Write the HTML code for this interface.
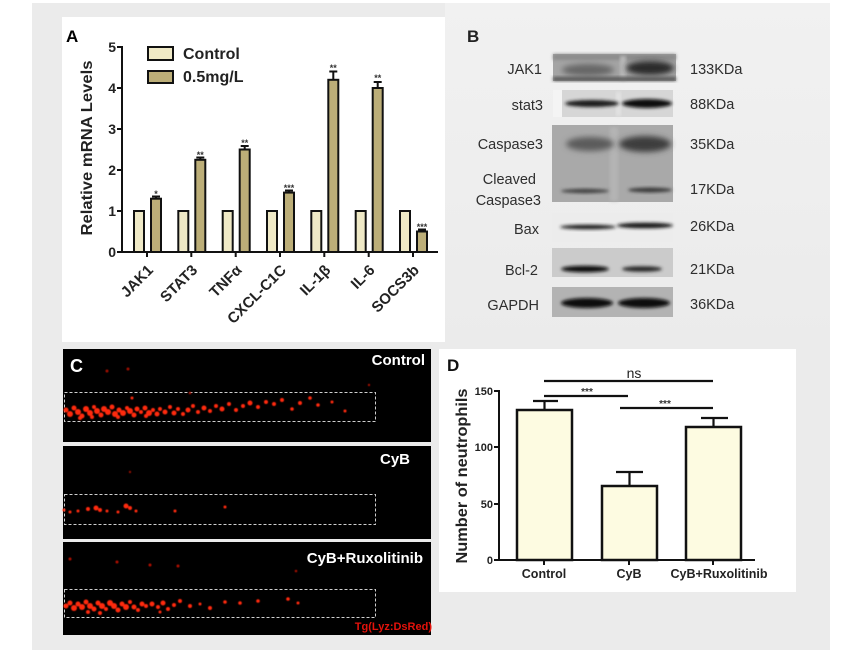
<!DOCTYPE html>
<html><head><meta charset="utf-8"><style>
html,body{margin:0;padding:0;background:#fff;}
svg{display:block;}
text{font-family:"Liberation Sans",Arial,sans-serif;}
</style></head><body>
<svg width="842" height="665" viewBox="0 0 842 665" xmlns="http://www.w3.org/2000/svg">
<defs>
<filter id="bl" x="-20%" y="-50%" width="140%" height="200%"><feGaussianBlur stdDeviation="1.6"/></filter>
<filter id="bl2" x="-20%" y="-50%" width="140%" height="200%"><feGaussianBlur stdDeviation="3"/></filter>
<filter id="rd" x="-10%" y="-10%" width="120%" height="120%"><feGaussianBlur stdDeviation="0.6"/></filter>
<linearGradient id="bgB" x1="0" y1="0" x2="0" y2="1"><stop offset="0" stop-color="#f1f1f1"/><stop offset="1" stop-color="#ebebeb"/></linearGradient>
</defs>
<!-- backgrounds -->
<rect x="32" y="3" width="798" height="647" fill="#ebebeb"/>
<rect x="445" y="3" width="385" height="340" fill="url(#bgB)"/>
<rect x="62" y="17" width="383" height="325" fill="#ffffff"/>
<rect x="439" y="349" width="357" height="243" fill="#ffffff"/>

<!-- ===== Panel A ===== -->
<text x="66" y="42" font-size="17" font-weight="bold">A</text>
<text transform="translate(92,148) rotate(-90)" text-anchor="middle" font-size="16" font-weight="bold" fill="#222" textLength="175" lengthAdjust="spacingAndGlyphs">Relative mRNA Levels</text>
<g font-size="14" font-weight="bold" text-anchor="end" fill="#222">
<text x="116" y="257">0</text><text x="116" y="216">1</text><text x="116" y="175">2</text>
<text x="116" y="134">3</text><text x="116" y="93">4</text><text x="116" y="52">5</text>
</g>
<g stroke="#111" stroke-width="2">
<line x1="122" y1="46" x2="122" y2="253"/>
<line x1="121" y1="252" x2="438" y2="252"/>
<line x1="117" y1="47" x2="122" y2="47"/><line x1="117" y1="88" x2="122" y2="88"/>
<line x1="117" y1="129" x2="122" y2="129"/><line x1="117" y1="170" x2="122" y2="170"/>
<line x1="117" y1="211" x2="122" y2="211"/><line x1="117" y1="252" x2="122" y2="252"/>
<line x1="147" y1="252" x2="147" y2="257"/><line x1="191.3" y1="252" x2="191.3" y2="257"/>
<line x1="235.7" y1="252" x2="235.7" y2="257"/><line x1="280" y1="252" x2="280" y2="257"/>
<line x1="324.3" y1="252" x2="324.3" y2="257"/><line x1="368.7" y1="252" x2="368.7" y2="257"/>
<line x1="413" y1="252" x2="413" y2="257"/>
</g>
<!-- legend -->
<rect x="148" y="47" width="25" height="13" fill="#efe9c6" stroke="#111" stroke-width="2"/>
<rect x="148" y="71" width="25" height="12" fill="#bcae78" stroke="#111" stroke-width="2"/>
<text x="183" y="59" font-size="16" font-weight="bold" fill="#222">Control</text>
<text x="183" y="82" font-size="16" font-weight="bold" fill="#222">0.5mg/L</text>
<!-- bars: control -->
<g fill="#efe9c6" stroke="#111" stroke-width="2">
<rect x="134" y="211" width="10" height="41"/>
<rect x="178.3" y="211" width="10" height="41"/>
<rect x="222.7" y="211" width="10" height="41"/>
<rect x="267" y="211" width="10" height="41"/>
<rect x="311.3" y="211" width="10" height="41"/>
<rect x="355.7" y="211" width="10" height="41"/>
<rect x="400" y="211" width="10" height="41"/>
</g>
<!-- bars: treatment -->
<g fill="#bcae78" stroke="#111" stroke-width="2">
<rect x="151" y="198.7" width="10" height="53.3"/>
<rect x="195.3" y="159.8" width="10" height="92.2"/>
<rect x="239.7" y="149.5" width="10" height="102.5"/>
<rect x="284" y="192.6" width="10" height="59.4"/>
<rect x="328.3" y="79.8" width="10" height="172.2"/>
<rect x="372.7" y="88" width="10" height="164"/>
<rect x="417" y="231.5" width="10" height="20.5"/>
</g>
<!-- error bars -->
<g stroke="#111" stroke-width="2">
<line x1="156" y1="198.7" x2="156" y2="196.5"/><line x1="152" y1="196.5" x2="160" y2="196.5"/>
<line x1="200.3" y1="159.8" x2="200.3" y2="157.5"/><line x1="196.3" y1="157.5" x2="204.3" y2="157.5"/>
<line x1="244.7" y1="149.5" x2="244.7" y2="146"/><line x1="240.7" y1="146" x2="248.7" y2="146"/>
<line x1="289" y1="192.6" x2="289" y2="190.5"/><line x1="285" y1="190.5" x2="293" y2="190.5"/>
<line x1="333.3" y1="79.8" x2="333.3" y2="71.5"/><line x1="329.3" y1="71.5" x2="337.3" y2="71.5"/>
<line x1="377.7" y1="88" x2="377.7" y2="82"/><line x1="373.7" y1="82" x2="381.7" y2="82"/>
<line x1="422" y1="231.5" x2="422" y2="229.5"/><line x1="418" y1="229.5" x2="426" y2="229.5"/>
</g>
<g font-size="9" font-weight="bold" fill="#333" text-anchor="middle">
<text x="156" y="197">*</text>
<text x="200.3" y="158">**</text>
<text x="244.7" y="146">**</text>
<text x="289" y="191">***</text>
<text x="333.3" y="71">**</text>
<text x="377.7" y="81">**</text>
<text x="422" y="230">***</text>
</g>
<!-- x labels rotated -->
<g font-size="15" font-weight="bold" fill="#222" text-anchor="end">
<text transform="translate(154,271) rotate(-45)">JAK1</text>
<text transform="translate(198.3,271) rotate(-45)">STAT3</text>
<text transform="translate(242.7,271) rotate(-45)">TNFα</text>
<text transform="translate(287,271) rotate(-45)">CXCL-C1C</text>
<text transform="translate(331.3,271) rotate(-45)">IL-1β</text>
<text transform="translate(375.7,271) rotate(-45)">IL-6</text>
<text transform="translate(420,271) rotate(-45)">SOCS3b</text>
</g>

<!-- ===== Panel B ===== -->
<text x="467" y="42" font-size="17" font-weight="bold" fill="#222">B</text>
<!-- JAK1 strip -->
<rect x="553" y="54" width="123" height="27" fill="#a4a4a4"/>
<rect x="553" y="54" width="123" height="6" fill="#8c8c8c" filter="url(#bl)"/>
<rect x="620" y="56" width="6" height="24" fill="#b8b8b8" filter="url(#bl)"/>
<ellipse cx="588" cy="70" rx="26" ry="6" fill="#666" filter="url(#bl2)"/>
<ellipse cx="650" cy="68" rx="24" ry="7" fill="#2a2a2a" filter="url(#bl2)"/>
<rect x="553" y="77" width="123" height="4" fill="#555" filter="url(#bl)"/>
<!-- stat3 -->
<rect x="553" y="90" width="120" height="27" fill="#d6d6d6"/>
<rect x="553" y="90" width="9" height="27" fill="#f4f4f4"/>
<rect x="616" y="92" width="5" height="24" fill="#e2e2e2" filter="url(#bl)"/>
<ellipse cx="592" cy="103.5" rx="27" ry="3.5" fill="#1a1a1a" filter="url(#bl)"/>
<ellipse cx="647" cy="103.5" rx="25" ry="4.5" fill="#0e0e0e" filter="url(#bl)"/>
<!-- Caspase3 block -->
<rect x="552" y="125" width="121" height="77" fill="#a9a9a9"/>
<rect x="610" y="127" width="8" height="74" fill="#b4b4b4" filter="url(#bl)"/>
<ellipse cx="590" cy="144" rx="24" ry="7" fill="#5c5c5c" filter="url(#bl2)"/>
<ellipse cx="645" cy="144" rx="26" ry="8" fill="#3e3e3e" filter="url(#bl2)"/>
<ellipse cx="585" cy="191" rx="24" ry="2.2" fill="#404040" filter="url(#bl)"/>
<ellipse cx="650" cy="190" rx="22" ry="2.5" fill="#3a3a3a" filter="url(#bl)"/>
<!-- Bax -->
<rect x="552" y="213" width="121" height="29" fill="#ececec"/>
<ellipse cx="588" cy="227" rx="28" ry="2.3" fill="#1a1a1a" filter="url(#bl)"/>
<ellipse cx="645" cy="225.5" rx="28" ry="2.8" fill="#121212" filter="url(#bl)"/>
<!-- Bcl-2 -->
<rect x="552" y="248" width="121" height="29" fill="#cbcbcb"/>
<ellipse cx="585" cy="269" rx="24" ry="3.3" fill="#111" filter="url(#bl)"/>
<ellipse cx="642" cy="269" rx="20" ry="2.8" fill="#2a2a2a" filter="url(#bl)"/>
<!-- GAPDH -->
<rect x="552" y="287" width="121" height="30" fill="#b3b3b3"/>
<ellipse cx="587" cy="303" rx="26" ry="5" fill="#080808" filter="url(#bl)"/>
<ellipse cx="644" cy="303" rx="26" ry="5" fill="#080808" filter="url(#bl)"/>
<g font-size="14.5" fill="#2e2e2e" text-anchor="end">
<text x="542" y="74">JAK1</text>
<text x="543" y="110">stat3</text>
<text x="543" y="149">Caspase3</text>
<text x="536" y="184">Cleaved</text>
<text x="541" y="205">Caspase3</text>
<text x="539" y="234">Bax</text>
<text x="538" y="275">Bcl-2</text>
<text x="539" y="310">GAPDH</text>
</g>
<g font-size="14.5" fill="#2e2e2e">
<text x="690" y="74">133KDa</text>
<text x="690" y="109">88KDa</text>
<text x="690" y="149">35KDa</text>
<text x="690" y="194">17KDa</text>
<text x="690" y="231">26KDa</text>
<text x="690" y="274">21KDa</text>
<text x="690" y="309">36KDa</text>
</g>

<!-- ===== Panel C ===== -->
<rect x="63" y="349" width="368" height="93" fill="#000"/>
<rect x="63" y="446" width="368" height="93" fill="#000"/>
<rect x="63" y="542" width="368" height="93" fill="#000"/>
<g fill="none" stroke="#cfcfcf" stroke-width="1" stroke-dasharray="3,2">
<rect x="64.5" y="392.5" width="311" height="29"/>
<rect x="64.5" y="494.5" width="311" height="30"/>
<rect x="64.5" y="589.5" width="311" height="28"/>
</g>
<g fill="#ff2a10" filter="url(#rd)">
<circle cx="66" cy="410" r="2.5"/><circle cx="70" cy="414" r="3"/><circle cx="74" cy="408" r="2.5"/><circle cx="78" cy="412" r="3"/>
<circle cx="82" cy="416" r="2.5"/><circle cx="86" cy="409" r="3"/><circle cx="90" cy="413" r="3"/><circle cx="94" cy="407" r="2"/>
<circle cx="97" cy="411" r="3"/><circle cx="101" cy="415" r="2.5"/><circle cx="104" cy="409" r="3"/><circle cx="108" cy="412" r="3"/>
<circle cx="112" cy="407" r="2.5"/><circle cx="115" cy="414" r="3"/><circle cx="119" cy="410" r="2.5"/><circle cx="123" cy="413" r="3"/>
<circle cx="127" cy="408" r="2"/><circle cx="130" cy="411" r="3"/><circle cx="134" cy="415" r="2.5"/><circle cx="137" cy="409" r="2.5"/>
<circle cx="141" cy="412" r="2"/><circle cx="145" cy="408" r="2.5"/><circle cx="149" cy="413" r="3"/><circle cx="153" cy="410" r="2"/>
<circle cx="157" cy="414" r="2.5"/><circle cx="160" cy="409" r="2"/><circle cx="165" cy="412" r="2.5"/><circle cx="170" cy="407" r="2"/>
<circle cx="174" cy="413" r="2.5"/><circle cx="178" cy="409" r="2"/><circle cx="183" cy="414" r="2"/><circle cx="188" cy="410" r="2.5"/>
<circle cx="193" cy="406" r="2"/><circle cx="198" cy="412" r="2"/><circle cx="204" cy="408" r="2.5"/><circle cx="210" cy="411" r="2"/>
<circle cx="216" cy="406" r="2"/><circle cx="222" cy="409" r="2.5"/><circle cx="229" cy="404" r="2"/><circle cx="236" cy="410" r="2"/>
<circle cx="243" cy="406" r="2"/><circle cx="250" cy="403" r="2.5"/><circle cx="258" cy="407" r="2"/><circle cx="266" cy="402" r="2"/>
<circle cx="274" cy="404" r="2"/><circle cx="282" cy="400" r="2"/><circle cx="292" cy="409" r="1.8"/><circle cx="300" cy="403" r="2"/>
<circle cx="310" cy="398" r="1.8"/><circle cx="318" cy="405" r="1.8"/><circle cx="332" cy="402" r="1.5"/><circle cx="345" cy="411" r="1.5"/>
<circle cx="132" cy="398" r="1.5"/><circle cx="107" cy="371" r="1.5" fill="#a01000"/><circle cx="128" cy="369" r="1.5" fill="#a01000"/>
<circle cx="369" cy="385" r="1.2" fill="#a01000"/><circle cx="190" cy="393" r="1.3" fill="#a01000"/>
<circle cx="80" cy="418" r="2"/><circle cx="92" cy="417" r="2"/><circle cx="118" cy="417" r="2"/><circle cx="146" cy="416" r="2"/>
<!-- CyB -->
<circle cx="64" cy="510" r="1.5"/><circle cx="70" cy="512" r="1.5"/><circle cx="78" cy="511" r="1.5"/><circle cx="88" cy="509" r="2"/>
<circle cx="96" cy="508" r="2.5"/><circle cx="100" cy="510" r="2"/><circle cx="107" cy="511" r="1.5"/><circle cx="118" cy="512" r="1.5"/>
<circle cx="126" cy="506" r="2.5"/><circle cx="130" cy="508" r="2"/><circle cx="136" cy="511" r="1.5"/><circle cx="175" cy="511" r="1.5"/>
<circle cx="225" cy="507" r="1.5"/><circle cx="130" cy="472" r="1.2" fill="#901000"/>
<!-- Ruxo -->
<circle cx="66" cy="606" r="2.5"/><circle cx="70" cy="603" r="2.5"/><circle cx="74" cy="608" r="3"/><circle cx="78" cy="604" r="2.5"/>
<circle cx="82" cy="607" r="3"/><circle cx="86" cy="602" r="2.5"/><circle cx="90" cy="606" r="3"/><circle cx="94" cy="609" r="2.5"/>
<circle cx="98" cy="603" r="2.5"/><circle cx="102" cy="606" r="3"/><circle cx="106" cy="609" r="2"/><circle cx="110" cy="603" r="3"/>
<circle cx="114" cy="606" r="3"/><circle cx="118" cy="610" r="2.5"/><circle cx="122" cy="604" r="2.5"/><circle cx="126" cy="607" r="3"/>
<circle cx="130" cy="602" r="2"/><circle cx="134" cy="607" r="2.5"/><circle cx="138" cy="610" r="2"/><circle cx="142" cy="604" r="2.5"/>
<circle cx="146" cy="606" r="2"/><circle cx="152" cy="604" r="2.5"/><circle cx="158" cy="607" r="2"/><circle cx="163" cy="603" r="2.5"/>
<circle cx="168" cy="609" r="2"/><circle cx="174" cy="605" r="2"/><circle cx="180" cy="601" r="2"/><circle cx="190" cy="606" r="2"/>
<circle cx="200" cy="604" r="1.5"/><circle cx="210" cy="608" r="2"/><circle cx="225" cy="602" r="1.8"/><circle cx="240" cy="603" r="1.8"/>
<circle cx="258" cy="601" r="1.8"/><circle cx="288" cy="599" r="1.8"/><circle cx="298" cy="603" r="1.5"/>
<circle cx="100" cy="613" r="2"/><circle cx="88" cy="612" r="2"/><circle cx="160" cy="612" r="1.5"/>
<circle cx="70" cy="559" r="1.5" fill="#b01000"/><circle cx="117" cy="562" r="1.5" fill="#b01000"/><circle cx="150" cy="565" r="1.5" fill="#b01000"/>
<circle cx="178" cy="566" r="1.5" fill="#b01000"/><circle cx="296" cy="571" r="1.3" fill="#a01000"/>
</g>
<text x="70" y="372" font-size="18" font-weight="bold" fill="#fff">C</text>
<g font-size="15" font-weight="bold" fill="#fff" text-anchor="end">
<text x="425" y="365">Control</text>
<text x="410" y="464">CyB</text>
<text x="423" y="563">CyB+Ruxolitinib</text>
</g>
<text x="432" y="630" font-size="11" font-weight="bold" fill="#e3120b" text-anchor="end">Tg(Lyz:DsRed)</text>

<!-- ===== Panel D ===== -->
<text x="447" y="371" font-size="17" font-weight="bold" fill="#111">D</text>
<text transform="translate(467,476) rotate(-90)" text-anchor="middle" font-size="16" font-weight="bold" fill="#222" textLength="175" lengthAdjust="spacingAndGlyphs">Number of neutrophils</text>
<g font-size="11" font-weight="bold" fill="#222" text-anchor="end">
<text x="493" y="395">150</text><text x="493" y="451">100</text><text x="493" y="508">50</text><text x="493" y="564">0</text>
</g>
<g stroke="#111" stroke-width="2" fill="none">
<line x1="499" y1="390" x2="499" y2="561"/>
<line x1="498" y1="560" x2="755" y2="560"/>
<line x1="494" y1="391" x2="499" y2="391"/><line x1="494" y1="447" x2="499" y2="447"/>
<line x1="494" y1="504" x2="499" y2="504"/><line x1="494" y1="560" x2="499" y2="560"/>
<line x1="544" y1="560" x2="544" y2="565"/><line x1="629" y1="560" x2="629" y2="565"/><line x1="713" y1="560" x2="713" y2="565"/>
</g>
<g fill="#fdfbe1" stroke="#111" stroke-width="2.5">
<rect x="517" y="410" width="55" height="150"/>
<rect x="602" y="486" width="55" height="74"/>
<rect x="686" y="427" width="55" height="133"/>
</g>
<g stroke="#111" stroke-width="2.2">
<line x1="544.5" y1="410" x2="544.5" y2="401"/><line x1="533" y1="401" x2="558" y2="401"/>
<line x1="629.5" y1="486" x2="629.5" y2="472"/><line x1="616" y1="472" x2="643" y2="472"/>
<line x1="713.5" y1="427" x2="713.5" y2="418"/><line x1="701" y1="418" x2="728" y2="418"/>
<line x1="544" y1="381" x2="713" y2="381"/>
<line x1="544" y1="396" x2="628" y2="396"/>
<line x1="620" y1="408" x2="713" y2="408"/>
</g>
<text x="634" y="378" font-size="14" fill="#222" text-anchor="middle">ns</text>
<g font-size="10" font-weight="bold" fill="#333" text-anchor="middle">
<text x="587" y="395">***</text>
<text x="665" y="407">***</text>
</g>
<g font-size="12.5" font-weight="bold" fill="#222" text-anchor="middle">
<text x="544" y="578">Control</text>
<text x="629" y="578">CyB</text>
<text x="719" y="578" textLength="97" lengthAdjust="spacingAndGlyphs">CyB+Ruxolitinib</text>
</g>
</svg>
</body></html>
